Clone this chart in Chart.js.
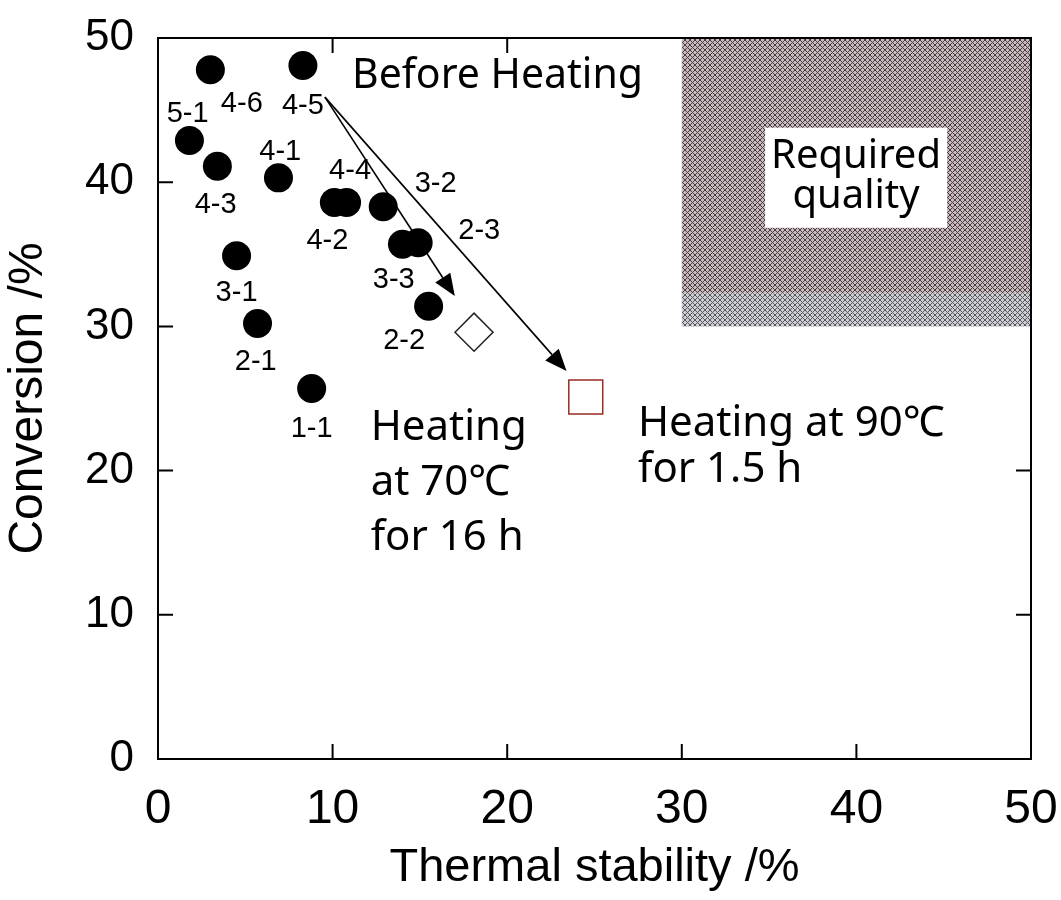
<!DOCTYPE html>
<html>
<head>
<meta charset="utf-8">
<script src="https://cdn.jsdelivr.net/npm/chart.js@4.4.1/dist/chart.umd.min.js"></script>
<style>
  html, body { margin: 0; padding: 0; background: #fff; }
  #wrap { width: 1061px; height: 900px; }
</style>
</head>
<body>
<div id="wrap"><canvas id="c" width="1061" height="900"></canvas></div>
<script>
// Samples before heating: thermal stability (%) vs conversion (%)
const sampleNames = ['4-6', '4-5', '5-1', '4-3', '4-1', '4-4', '4-2', '3-2', '3-3', '2-3', '2-2', '3-1', '2-1', '1-1'];
const stability   = [3.0, 8.3, 1.8, 3.4, 6.9, 10.1, 10.8, 12.9, 14.0, 14.9, 15.5, 4.5, 5.7, 8.8];
const conversion  = [47.8, 48.1, 42.9, 41.1, 40.3, 38.6, 38.6, 38.3, 35.7, 35.8, 31.4, 34.9, 30.2, 25.7];

// Where each sample name is written (data units)
const labelX = [4.8, 8.3, 1.7, 3.3, 7.0, 11.0, 9.7, 15.9, 13.5, 18.4, 14.1, 4.5, 5.6, 8.8];
const labelY = [45.4, 45.3, 44.7, 38.4, 42.1, 40.8, 35.9, 39.9, 33.2, 36.6, 29.0, 32.3, 27.5, 22.9];

// Heated samples
const heated70 = [{ x: 18.1, y: 29.6 }];
const heated90 = [{ x: 24.5, y: 25.1 }];

// Arrows: common start, two ends
const arrowStart = { x: 9.56, y: 45.9 };
const arrowEnds = [{ x: 17.0, y: 32.1 }, { x: 23.4, y: 26.9 }];

// Target window (thermal stability >= 30 %, conversion >= 30 %)
const targetX = [30, 50];
const targetY = [30, 50];

// Axis ticks
const tickValues = [0, 10, 20, 30, 40, 50];

const circles = stability.map((v, i) => ({ x: v, y: conversion[i] }));

// small cross-hatch tile used to fill the target window
function hatch(dark, light) {
  const n = 5;
  const t = document.createElement('canvas');
  t.width = n; t.height = n;
  const g = t.getContext('2d');
  g.fillStyle = light; g.fillRect(0, 0, n, n);
  g.fillStyle = dark;
  for (let i = 0; i < n; i++) {
    g.fillRect(i, i, 1, 1);
    g.fillRect(n - 1 - i, i, 1, 1);
  }
  return t;
}

const decor = {
  id: 'decor',
  beforeDatasetsDraw(chart) {
    const { ctx, scales: { x, y } } = chart;
    ctx.save();
    // target window
    const xl = x.getPixelForValue(targetX[0]), xr = x.getPixelForValue(targetX[1]);
    const yt = y.getPixelForValue(targetY[1]), yb = y.getPixelForValue(targetY[0]);
    const ySplit = y.getPixelForValue(32.3);
    ctx.fillStyle = ctx.createPattern(hatch('rgb(80,58,56)', 'rgb(196,188,194)'), 'repeat');
    ctx.fillRect(xl, yt, xr - xl, ySplit - yt);
    ctx.fillStyle = ctx.createPattern(hatch('rgb(88,88,92)', 'rgb(205,206,212)'), 'repeat');
    ctx.fillRect(xl, ySplit, xr - xl, yb - ySplit);
    // white box for the caption
    const bx1 = x.getPixelForValue(34.77), bx2 = x.getPixelForValue(45.19);
    const by1 = y.getPixelForValue(43.77), by2 = y.getPixelForValue(36.84);
    ctx.fillStyle = '#fff';
    ctx.fillRect(bx1, by1, bx2 - bx1, by2 - by1);
    ctx.fillStyle = '#000';
    ctx.font = '40px "Noto Sans", "Noto Sans CJK JP", sans-serif';
    ctx.textAlign = 'center';
    ctx.textBaseline = 'alphabetic';
    ctx.fillText('Required', x.getPixelForValue(39.98), y.getPixelForValue(40.99));
    ctx.fillText('quality', x.getPixelForValue(39.98), y.getPixelForValue(38.23));

    // frame and inward ticks on all four sides
    const L = chart.chartArea.left, R = chart.chartArea.right, T = chart.chartArea.top, B = chart.chartArea.bottom;
    ctx.strokeStyle = '#000';
    ctx.lineWidth = 2;
    ctx.beginPath();
    tickValues.forEach(v => {
      const px = x.getPixelForValue(v), py = y.getPixelForValue(v);
      if (v > 0 && v < 50) {
        ctx.moveTo(px, B); ctx.lineTo(px, B - 15);
        if (v < targetX[0]) { ctx.moveTo(px, T); ctx.lineTo(px, T + 15); }
        ctx.moveTo(L, py); ctx.lineTo(L + 15, py);
        if (v < targetY[0]) { ctx.moveTo(R, py); ctx.lineTo(R - 15, py); }
      }
    });
    ctx.stroke();
    ctx.beginPath();
    ctx.rect(L, T, R - L, B - T);
    ctx.stroke();

    // arrows
    const sx = x.getPixelForValue(arrowStart.x), sy = y.getPixelForValue(arrowStart.y);
    arrowEnds.forEach(e => {
      const ex = x.getPixelForValue(e.x), ey = y.getPixelForValue(e.y);
      const ang = Math.atan2(ey - sy, ex - sx);
      const hl = 22, hw = 9;
      const bx = ex - hl * Math.cos(ang), byy = ey - hl * Math.sin(ang);
      ctx.lineWidth = 1.6;
      ctx.beginPath();
      ctx.moveTo(sx, sy);
      ctx.lineTo(bx, byy);
      ctx.stroke();
      ctx.fillStyle = '#000';
      ctx.beginPath();
      ctx.moveTo(ex, ey);
      ctx.lineTo(bx + hw * Math.sin(ang), byy - hw * Math.cos(ang));
      ctx.lineTo(bx - hw * Math.sin(ang), byy + hw * Math.cos(ang));
      ctx.closePath();
      ctx.fill();
    });

    // captions
    ctx.fillStyle = '#000';
    ctx.textAlign = 'left';
    ctx.font = '41px "Noto Sans", "Noto Sans CJK JP", sans-serif';
    ctx.fillText('Before Heating', x.getPixelForValue(11.11), y.getPixelForValue(46.54));
    ctx.font = '42px "Noto Sans", "Noto Sans CJK JP", sans-serif';
    ctx.fillText('Heating', x.getPixelForValue(12.18), y.getPixelForValue(22.13));
    ctx.fillText('at 70\u2103', x.getPixelForValue(12.18), y.getPixelForValue(18.32));
    ctx.fillText('for 16 h', x.getPixelForValue(12.18), y.getPixelForValue(14.50));
    ctx.fillText('Heating at 90\u2103', x.getPixelForValue(27.49), y.getPixelForValue(22.42));
    ctx.fillText('for 1.5 h', x.getPixelForValue(27.49), y.getPixelForValue(19.18));

    // sample names
    ctx.font = '29px "Liberation Sans", Arial, sans-serif';
    ctx.textAlign = 'center';
    ctx.textBaseline = 'middle';
    sampleNames.forEach((n, i) => {
      ctx.fillText(n, x.getPixelForValue(labelX[i]), y.getPixelForValue(labelY[i]));
    });
    ctx.restore();
  }
};

new Chart(document.getElementById('c'), {
  type: 'scatter',
  data: {
    datasets: [
      {
        label: 'Before heating',
        data: circles,
        pointStyle: 'circle',
        pointRadius: 14.5,
        pointHoverRadius: 14.5,
        backgroundColor: '#000',
        borderColor: '#000',
        borderWidth: 0
      },
      {
        label: 'Heating at 70\u2103 for 16 h',
        data: heated70,
        pointStyle: 'rectRot',
        pointRadius: 19,
        pointHoverRadius: 19,
        backgroundColor: '#fff',
        borderColor: '#222',
        borderWidth: 1.5
      },
      {
        label: 'Heating at 90\u2103 for 1.5 h',
        data: heated90,
        pointStyle: 'rect',
        pointRadius: 24,
        pointHoverRadius: 24,
        backgroundColor: '#fff',
        borderColor: 'rgb(150,45,35)',
        borderWidth: 1.5
      }
    ]
  },
  options: {
    responsive: false,
    devicePixelRatio: 1,
    animation: false,
    events: [],
    layout: { padding: { top: 38, right: 30, left: 0, bottom: 0 } },
    plugins: { legend: { display: false }, tooltip: { enabled: false } },
    scales: {
      x: {
        type: 'linear',
        min: 0, max: 50,
        afterFit(s) { s.height = 141; s.paddingLeft = 0; s.paddingRight = 0; },
        afterBuildTicks(s) { s.ticks = tickValues.map(v => ({ value: v })); },
        grid: { display: false, drawTicks: false },
        border: { display: false },
        ticks: {
          color: '#000',
          padding: 22,
          maxRotation: 0,
          font: { family: '"Liberation Sans", Arial, sans-serif', size: 48 }
        },
        title: {
          display: true,
          text: 'Thermal stability /%',
          color: '#000',
          padding: { top: 0, bottom: 4 },
          font: { family: '"Liberation Sans", Arial, sans-serif', size: 47 }
        }
      },
      y: {
        type: 'linear',
        min: 0, max: 50,
        afterFit(s) { s.width = 158; s.paddingTop = 0; s.paddingBottom = 0; },
        afterBuildTicks(s) { s.ticks = tickValues.map(v => ({ value: v })); },
        grid: { display: false, drawTicks: false },
        border: { display: false },
        ticks: {
          color: '#000',
          padding: 24,
          font: { family: '"Liberation Sans", Arial, sans-serif', size: 44 }
        },
        title: {
          display: true,
          text: 'Conversion /%',
          color: '#000',
          padding: { top: 0, bottom: 0 },
          font: { family: '"Liberation Sans", Arial, sans-serif', size: 48 }
        }
      }
    }
  },
  plugins: [decor]
});
</script>
</body>
</html>
